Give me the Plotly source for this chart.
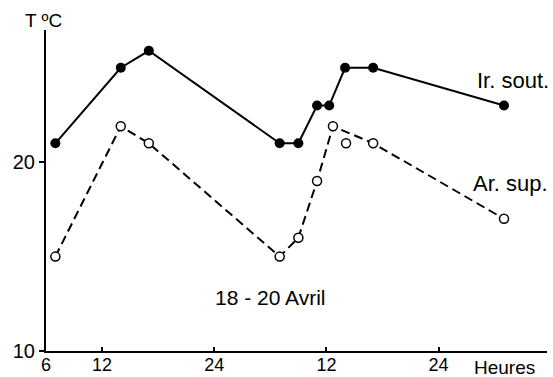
import plotly.graph_objects as go

# Data
ir_hours = [7, 14, 17, 31, 33, 35, 36.3, 38, 41, 55]
ir_temp = [21, 25, 25.9, 21, 21, 23, 23, 25, 25, 23]

ar_hours = [7, 14, 17, 31, 33, 35, 36.7, 41, 55]
ar_temp = [15, 21.9, 21, 15, 16, 19, 21.9, 21, 17]

ar_extra_hours = [38.1]
ar_extra_temp = [21]

x_tickvals = [6, 12, 24, 36, 48]
x_ticktext = ["6", "12", "24", "12", "24"]
y_tickvals = [10, 20]
y_ticktext = ["10", "20"]

FONT = "Liberation Sans, Arial, sans-serif"

fig = go.Figure()

fig.add_trace(go.Scatter(
    x=ir_hours, y=ir_temp, mode="lines+markers",
    line=dict(color="black", width=2),
    marker=dict(symbol="circle", size=10, color="black"),
    cliponaxis=False, showlegend=False,
))
fig.add_trace(go.Scatter(
    x=ar_hours, y=ar_temp, mode="lines+markers",
    line=dict(color="black", width=2, dash="9px,5px"),
    marker=dict(symbol="circle", size=9, color="white",
                line=dict(color="black", width=1.5)),
    cliponaxis=False, showlegend=False,
))
fig.add_trace(go.Scatter(
    x=ar_extra_hours, y=ar_extra_temp, mode="markers",
    marker=dict(symbol="circle", size=9, color="white",
                line=dict(color="black", width=1.5)),
    cliponaxis=False, showlegend=False,
))

# paper coordinates: plot area spans x 46..547 px, y 30..351 px
annotations = [
    dict(text="T ºC", x=-0.004, y=1.03, xref="paper", yref="paper", size=19),
    dict(text="Ir. sout.", x=56.0, y=24.35, xref="x", yref="y", size=22),
    dict(text="Ar. sup.", x=55.7, y=18.85, xref="x", yref="y", size=22),
    dict(text="18 - 20 Avril", x=30.0, y=12.85, xref="x", yref="y", size=21),
    dict(text="Heures", x=0.915, y=-0.05, xref="paper", yref="paper", size=19),
]
for a in annotations:
    fig.add_annotation(
        text=a["text"], x=a["x"], y=a["y"], xref=a["xref"], yref=a["yref"],
        showarrow=False, xanchor="center", yanchor="middle",
        font=dict(family=FONT, size=a["size"], color="black"),
    )

fig.update_layout(
    width=553, height=377,
    margin=dict(l=46, r=6, t=30, b=26, autoexpand=False),
    paper_bgcolor="white", plot_bgcolor="white",
    font=dict(family=FONT, size=19, color="black"),
    xaxis=dict(
        range=[6, 59.6], showgrid=False, zeroline=False, automargin=False,
        showline=True, linecolor="black", linewidth=2,
        tickmode="array", tickvals=x_tickvals, ticktext=x_ticktext,
        ticks="inside", ticklen=4, tickwidth=1.5, tickcolor="black",
        tickfont=dict(family=FONT, size=18), ticklabelstandoff=-4,
    ),
    yaxis=dict(
        range=[10, 27], showgrid=False, zeroline=False, automargin=False,
        showline=True, linecolor="black", linewidth=2,
        tickmode="array", tickvals=y_tickvals, ticktext=y_ticktext,
        ticks="outside", ticklen=5, tickwidth=1.5, tickcolor="black",
        tickfont=dict(family=FONT, size=20),
    ),
)

fig.write_html("out.html")
